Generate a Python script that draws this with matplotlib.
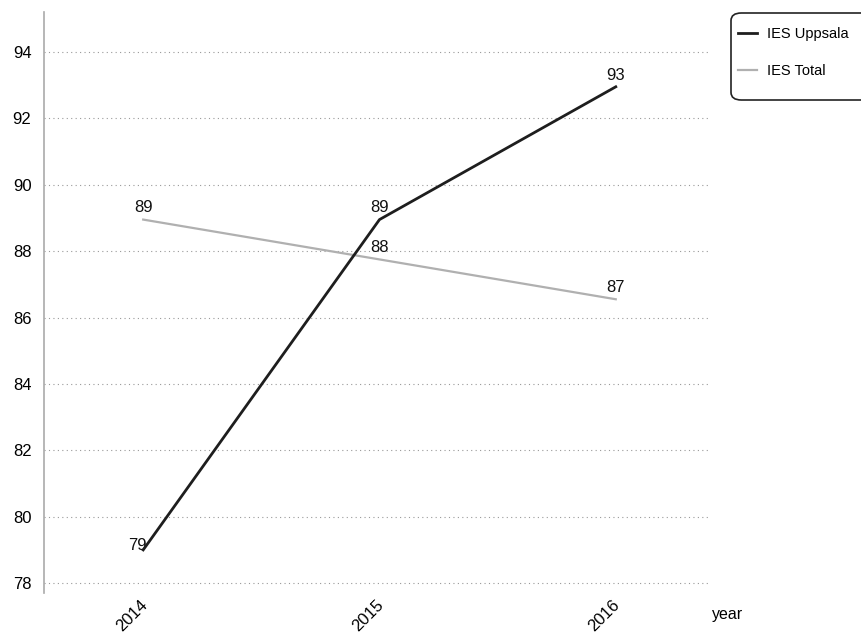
import matplotlib
matplotlib.use("Agg")
import matplotlib.pyplot as plt
import matplotlib.transforms as mtransforms
from matplotlib.patches import FancyBboxPatch

plt.rcParams['font.family'] = ['Liberation Sans', 'DejaVu Sans']

# data
years = ['2014', '2015', '2016']
uppsala = [79.0, 88.95, 92.95]
total = [88.95, 87.75, 86.55]
yticks = [78, 80, 82, 84, 86, 88, 90, 92, 94]

fig = plt.figure(figsize=(8.62, 6.37), dpi=100)
ax = fig.add_axes([0.051, 0.069, 0.773, 0.912])

x = list(range(len(years)))
ax.plot(x, total, color='#b0b0b0', lw=1.6, label='IES Total', zorder=3)
ax.plot(x, uppsala, color='#1e1e1e', lw=2.0, label='IES Uppsala', zorder=4)

# value labels
for i, v in enumerate(uppsala):
    off = (-4, -2) if i == 0 else (0, 3)
    ax.annotate(f'{v:.0f}', (i, v), xytext=off, textcoords='offset points',
                ha='center', va='bottom', fontsize=12, color='#111111')
for i, v in enumerate(total):
    ax.annotate(f'{v:.0f}', (i, v), xytext=(0, 3), textcoords='offset points',
                ha='center', va='bottom', fontsize=12, color='#111111')

ax.set_xlim(-0.42, 2.4)
ax.set_ylim(77.7, 95.2)
ax.set_yticks(yticks)
ax.set_xticks(x)
ax.set_xticklabels(years, rotation=45, ha='right', fontsize=12)
ax.tick_params(axis='y', length=0, pad=9, labelsize=12)
ax.tick_params(axis='x', length=0, pad=3)
ax.grid(axis='y', linestyle=(0, (1, 3)), color='#999999', lw=0.8)
ax.set_axisbelow(True)

for s in ['top', 'right', 'bottom']:
    ax.spines[s].set_visible(False)
ax.spines['left'].set_color('#aaaaaa')
ax.spines['left'].set_linewidth(1.2)

fig.text(712 / 862, 1 - 614 / 637, 'year', fontsize=11.5, va='center', ha='left')

# legend box, running off the right edge
box = FancyBboxPatch((731 / 862, 1 - 100 / 637), 150 / 862, 87 / 637,
                     boxstyle='round,pad=0,rounding_size=0.012',
                     transform=fig.transFigure, fc='white', ec='#222222',
                     lw=1.2, zorder=5)
fig.patches.append(box)
h, l = ax.get_legend_handles_labels()
leg = fig.legend(h[::-1], l[::-1], loc='upper left',
                 bbox_to_anchor=(728 / 862, 1 - 17 / 637), frameon=False,
                 fontsize=10.5, handlelength=1.3, handletextpad=0.7,
                 labelspacing=1.55, borderpad=0.2)
leg.set_zorder(6)

# nudge the rotated year labels a little to the right
shift = mtransforms.ScaledTranslation(7 / 100, 0, fig.dpi_scale_trans)
for t in ax.xaxis.get_major_ticks():
    t.label1.set_transform(t.label1.get_transform() + shift)

fig.savefig('out.png', dpi=100)
